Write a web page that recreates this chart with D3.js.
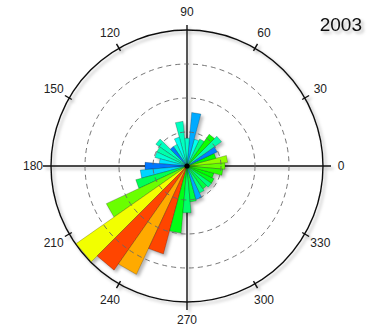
<!DOCTYPE html>
<html>
<head>
<meta charset="utf-8">
<script src="https://cdn.jsdelivr.net/npm/d3@7"></script>
<style>
  html, body { margin: 0; padding: 0; background: #fff; }
  svg { display: block; }
  text { font-family: "Liberation Sans", Arial, sans-serif; fill: #222; }
</style>
</head>
<body>
<svg id="rose" width="370" height="329"></svg>
<script>
// Direction bins (degrees, counter-clockwise from east), 10° wide
const directions = [0, 10, 20, 30, 40, 50, 60, 70, 80, 90, 100, 110,
  120, 130, 140, 150, 160, 170, 180, 190, 200, 210, 220, 230,
  240, 250, 260, 270, 280, 290, 300, 310, 320, 330, 340, 350];
// Frequency per direction bin
const frequency = [5.6, 6.0, 4.4, 4.9, 6.2, 5.7, 4.4, 4.1, 7.9, 4.1, 6.6, 4.4,
  3.5, 3.5, 5.6, 4.9, 4.9, 4.1, 6.2, 6.9, 7.8, 13.1, 19.9, 18.7,
  17.6, 13.4, 9.9, 6.9, 5.3, 5.1, 4.4, 4.1, 4.4, 4.4, 4.1, 5.3];
// Mean speed per direction bin (sets the bar colour)
const meanSpeed = [7.2, 7.7, 6.0, 1.5, 4.0, 6.2, 4.5, 3.2, 2.0, 3.6, 3.75, 3.2,
  3.5, 1.4, 3.75, 4.0, 3.5, 2.7, 1.4, 2.5, 5.0, 7.25, 8.85, 11.2,
  10.0, 11.2, 5.75, 4.75, 5.25, 2.0, 4.5, 5.25, 4.5, 5.75, 6.0, 6.5];
const ringValues = [5, 10, 15, 20];
const angleTicks = [0, 30, 60, 90, 120, 150, 180, 210, 240, 270, 300, 330];
const title = "2003";

const svg = d3.select("#rose");
const cx = 187, cy = 166;
const rMax = 136;
const binWidth = 10;

const r = d3.scaleLinear().domain([0, 20]).range([0, rMax]);
const hue = d3.scaleLinear().domain([0, 12]).range([240, 0]);
const colour = v => d3.hsl(hue(v), 1, 0.5).formatHex();
// compass-style angle used by d3 (radians, clockwise from north)
const toD3 = deg => (90 - deg) * Math.PI / 180;

const defs = svg.append("defs");
const f = defs.append("filter").attr("id", "shadow")
  .attr("x", "-20%").attr("y", "-20%").attr("width", "140%").attr("height", "140%");
f.append("feDropShadow").attr("dx", 2.5).attr("dy", 2.5)
  .attr("stdDeviation", 1.8).attr("flood-color", "#000").attr("flood-opacity", 0.28);

const g = svg.append("g").attr("transform", `translate(${cx},${cy})`);

// crosshair axes
const axes = g.append("g").attr("filter", "url(#shadow)");
axes.append("line").attr("x1", -144).attr("x2", 144).attr("y1", 0).attr("y2", 0)
  .attr("stroke", "#111").attr("stroke-width", 1.4);
axes.append("line").attr("x1", 0).attr("x2", 0).attr("y1", -141).attr("y2", 144)
  .attr("stroke", "#111").attr("stroke-width", 1.4);

// outer circle and angle ticks
axes.append("circle").attr("r", r(20)).attr("fill", "none")
  .attr("stroke", "#111").attr("stroke-width", 1.4);
axes.selectAll("line.tick")
  .data(angleTicks.filter(d => d % 90 !== 0))
  .join("line").attr("class", "tick")
  .attr("x1", d => (rMax - 3) * Math.cos(d * Math.PI / 180))
  .attr("y1", d => -(rMax - 3) * Math.sin(d * Math.PI / 180))
  .attr("x2", d => (rMax + 5) * Math.cos(d * Math.PI / 180))
  .attr("y2", d => -(rMax + 5) * Math.sin(d * Math.PI / 180))
  .attr("stroke", "#111").attr("stroke-width", 1.4);

// wedges
const wedge = d3.lineRadial().curve(d3.curveLinearClosed);
const bars = directions.map((d, i) => ({ dir: d, f: frequency[i], s: meanSpeed[i] }));
g.append("g").attr("filter", "url(#shadow)")
  .selectAll("path")
  .data(bars)
  .join("path")
  .attr("d", d => wedge([
    [0, 0],
    [toD3(d.dir + binWidth / 2), r(d.f)],
    [toD3(d.dir - binWidth / 2), r(d.f)]
  ]))
  .attr("fill", d => colour(d.s))
  .attr("stroke", "rgba(0,0,0,0.45)")
  .attr("stroke-width", 0.5)
  .attr("stroke-linejoin", "round");

// dashed rings
g.append("g").selectAll("circle")
  .data(ringValues.slice(0, -1))
  .join("circle")
  .attr("r", d => r(d))
  .attr("fill", "none")
  .attr("stroke", "#666")
  .attr("stroke-width", 0.9)
  .attr("stroke-dasharray", "5,4");

// centre dot
g.append("circle").attr("r", 2.6).attr("fill", "#000");

// angle labels
g.append("g").selectAll("text")
  .data(angleTicks)
  .join("text")
  .attr("x", d => 154 * Math.cos(d * Math.PI / 180))
  .attr("y", d => -154 * Math.sin(d * Math.PI / 180))
  .attr("dy", "0.36em")
  .attr("text-anchor", "middle")
  .attr("font-size", 12)
  .text(d => d);

// year title
svg.append("text")
  .attr("x", 362).attr("y", 31)
  .attr("text-anchor", "end")
  .attr("font-size", 19)
  .attr("filter", "url(#shadow)")
  .style("fill", "#111")
  .text(title);
</script>
</body>
</html>
